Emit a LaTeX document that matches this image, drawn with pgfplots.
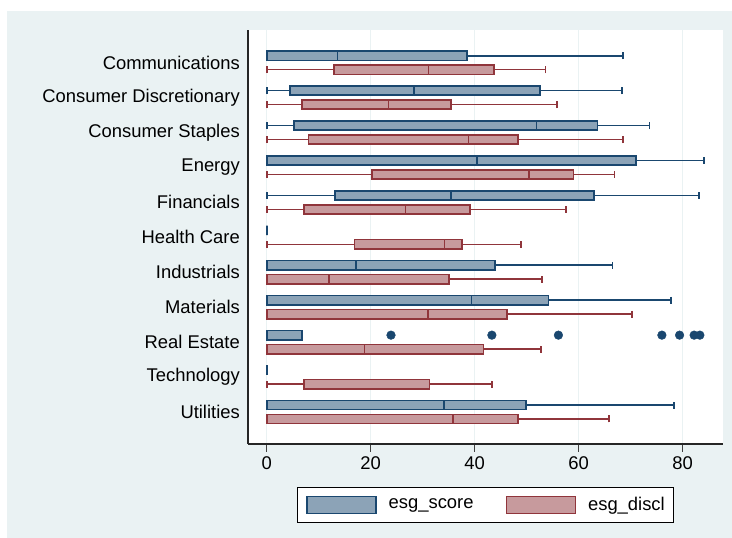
\documentclass[border=0pt]{standalone}
\usepackage{fontspec}
\setmainfont{Liberation Sans}
\usepackage{pgfplots}
\pgfplotsset{compat=1.18}
\usepgfplotslibrary{statistics}
\definecolor{snavy}{HTML}{1A476F}
\definecolor{sfill}{HTML}{8CA3B7}
\definecolor{rmar}{HTML}{90353B}
\definecolor{rfill}{HTML}{C79A9D}
\definecolor{bgblue}{HTML}{EAF2F3}
\pgfplotsset{
  scorestyle/.style={draw=snavy, fill=sfill, line width=1.6pt, solid},
  disclstyle/.style={draw=rmar, fill=rfill, line width=1.6pt, solid},
}
% #1 position, #2 lower whisker, #3 Q1, #4 median, #5 Q3, #6 upper whisker
\newcommand{\scoreplot}[6]{\addplot[scorestyle, boxplot prepared={draw position=#1+0.2, lower whisker=#2, lower quartile=#3, median=#4, upper quartile=#5, upper whisker=#6}] coordinates {};}
\newcommand{\disclplot}[6]{\addplot[disclstyle, boxplot prepared={draw position=#1-0.2, lower whisker=#2, lower quartile=#3, median=#4, upper quartile=#5, upper whisker=#6}] coordinates {};}
\begin{document}
\fontsize{18.4}{21}\selectfont
\begin{tikzpicture}[x=1pt,y=1pt]
\useasboundingbox (0,0) rectangle (732,538);
\fill[white] (0,0) rectangle (732,538);
\fill[bgblue] (7,0) rectangle (732,527);
\begin{axis}[
  at={(248pt,94pt)}, anchor=south west,
  scale only axis, width=475pt, height=414pt,
  xmin=-3.6, xmax=87.75, ymin=0.084, ymax=11.936,
  axis lines*=left,
  axis line style={draw=black!85, line width=1.1pt},
  axis background/.style={fill=white},
  xtick={0,20,40,60,80},
  ytick={1,2,3,4,5,6,7,8,9,10,11},
  yticklabels={Utilities,Technology,Real Estate,Materials,Industrials,Health Care,Financials,Energy,Consumer Staples,Consumer Discretionary,Communications},
  xmajorgrids,
  major grid style={draw=bgblue, line width=1.5pt},
  tick align=outside,
  major tick length=8pt,
  xtick style={draw=black!75, line width=1.1pt},
  ytick style={draw=none},
  /pgf/number format/assume math mode=true,
  yticklabel style={inner sep=0pt, xshift=0pt},
  xticklabel style={inner sep=0pt, yshift=-4pt},
  boxplot/draw direction=x,
  boxplot/box extend=0.266,
  boxplot/whisker extend=0.2,
  boxplot/every whisker/.style={line width=1.6pt},
  boxplot/every median/.style={line width=1.6pt},
  boxplot/every box/.style={line width=1.6pt},
  legend columns=2,
  legend style={at={(0.5,-0.1039)}, anchor=north, draw=black, line width=1pt, fill=white,
    inner xsep=9pt, inner ysep=8pt, nodes={inner sep=0pt},
    /tikz/every odd column/.append style={column sep=12pt},
    /tikz/every even column/.append style={column sep=32pt}},
]
\addlegendimage{legend image code/.code={\draw[fill=sfill,draw=snavy,line width=1.5pt] (0pt,-8.5pt) rectangle (69pt,8.5pt);}}
\addlegendentry{esg\_score}
\addlegendimage{legend image code/.code={\draw[fill=rfill,draw=rmar,line width=1.5pt] (0pt,-8.5pt) rectangle (69pt,8.5pt);}}
\addlegendentry{esg\_discl}
% Communications
\scoreplot{11}{0}{0}{13.6}{38.5}{68.5}
\disclplot{11}{0}{12.9}{31.1}{43.7}{53.6}
% Consumer Discretionary
\scoreplot{10}{0}{4.5}{28.3}{52.6}{68.3}
\disclplot{10}{0}{6.8}{23.4}{35.4}{55.8}
% Consumer Staples
\scoreplot{9}{0}{5.3}{51.9}{63.6}{73.6}
\disclplot{9}{0}{8.0}{38.8}{48.3}{68.5}
% Energy
\scoreplot{8}{0}{0}{40.4}{71.0}{84.1}
\disclplot{8}{0}{20.3}{50.4}{59.0}{66.9}
% Financials
\scoreplot{7}{0}{13.1}{35.4}{62.9}{83.1}
\disclplot{7}{0}{7.2}{26.7}{39.1}{57.5}
% Health Care
\scoreplot{6}{0}{0}{0}{0}{0}
\disclplot{6}{0}{16.9}{34.2}{37.6}{48.9}
% Industrials
\scoreplot{5}{0}{0}{17.2}{43.9}{66.5}
\disclplot{5}{0}{0}{12.0}{35.1}{52.9}
% Materials
\scoreplot{4}{0}{0}{39.4}{54.2}{77.8}
\disclplot{4}{0}{0}{31.0}{46.2}{70.3}
% Real Estate
\addplot[scorestyle, mark=*, mark size=4.3pt, mark options={solid, fill=snavy, draw=snavy, line width=0.5pt},
  boxplot prepared={draw position=3.2, lower whisker=0, lower quartile=0, median=0, upper quartile=6.8, upper whisker=6.8}]
  table[row sep=\\, y index=0] {23.9\\ 43.3\\ 56.1\\ 76.0\\ 79.4\\ 82.2\\ 83.3\\};
\disclplot{3}{0}{0}{18.8}{41.7}{52.7}
% Technology
\scoreplot{2}{0}{0}{0}{0}{0}
\disclplot{2}{0}{7.2}{7.2}{31.3}{43.3}
% Utilities
\scoreplot{1}{0}{0}{34.1}{49.9}{78.3}
\disclplot{1}{0}{0}{35.8}{48.3}{65.8}
\end{axis}
\end{tikzpicture}
\end{document}
